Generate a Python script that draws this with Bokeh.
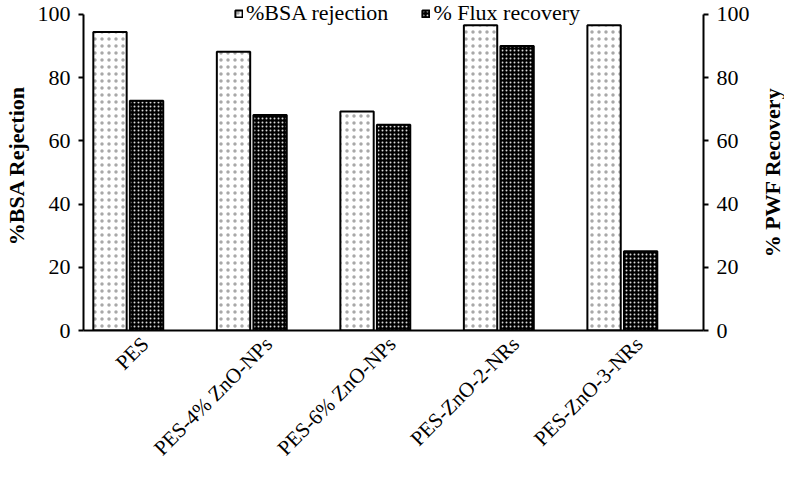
import math
from bokeh.plotting import figure
from bokeh.layouts import row
from bokeh.models import Range1d, LinearAxis, FixedTicker, Legend, LegendItem, ColumnDataSource
from bokeh.core.properties import value
from bokeh.embed import file_html
from bokeh.resources import INLINE

categories = ["PES", "PES-4% ZnO-NPs", "PES-6% ZnO-NPs", "PES-ZnO-2-NRs", "PES-ZnO-3-NRs"]
bsa_rejection = [94.4, 88.2, 69.3, 96.6, 96.6]
flux_recovery = [72.7, 68.2, 65.1, 90.0, 25.1]
y_ticks = [0, 20, 40, 60, 80, 100]
left_title = "%BSA Rejection"
right_title = "% PWF Recovery"

FONT = "Liberation Serif"
idx = list(range(len(categories)))
off = 0.148
bw = 0.27

H = 471
WM, WS = 760, 24
BL, BR, BT, BB = 73, 57, 0, 139
x0, x1 = -0.3625, 4.657
frame_h = H - BT - BB
top_pad_px = 14                      # room above the 100 tick for the legend
y_max = y_ticks[-1]
y_end = y_max * frame_h / (frame_h - top_pad_px)

src = ColumnDataSource(dict(
    x1=[i - off for i in idx], x2=[i + off for i in idx],
    bsa=bsa_rejection, flux=flux_recovery))

p = figure(width=WM, height=H, output_backend="svg", toolbar_location=None,
           x_range=Range1d(x0, x1), y_range=Range1d(0, y_end),
           min_border_left=BL, min_border_right=BR, min_border_top=BT, min_border_bottom=BB)
p.outline_line_color = None
p.grid.visible = False
p.background_fill_color = "white"

r1 = p.vbar(x="x1", top="bsa", width=bw, source=src, fill_color="white",
            line_color="black", line_width=2,
            hatch_pattern=".", hatch_color="#a8a8a8", hatch_scale=7, hatch_weight=0.5)
r2 = p.vbar(x="x2", top="flux", width=bw, source=src, fill_color="black",
            line_color="black", line_width=2,
            hatch_pattern=".", hatch_color="#d8d8d8", hatch_scale=4, hatch_weight=1.2)

ya = p.yaxis[0]
ya.ticker = FixedTicker(ticks=y_ticks)
ya.axis_label = left_title

ra = LinearAxis(ticker=FixedTicker(ticks=y_ticks))
p.add_layout(ra, "right")

for ax in [ya, ra]:
    ax.bounds = (0, y_max)
    ax.axis_line_width = 2
    ax.axis_line_color = "black"
    ax.major_tick_out = 5
    ax.major_tick_in = 0
    ax.major_tick_line_width = 2
    ax.minor_tick_line_color = None
    ax.major_label_text_font = FONT
    ax.major_label_text_font_size = "22px"
    ax.major_label_text_color = "black"
    ax.major_label_standoff = 8
    ax.axis_label_text_font = FONT
    ax.axis_label_text_font_size = "22px"
    ax.axis_label_text_font_style = "bold"
    ax.axis_label_text_color = "black"
    ax.axis_label_standoff = 6

xa = p.xaxis[0]
xa.ticker = FixedTicker(ticks=[i + 0.135 for i in idx])
xa.major_label_overrides = {i + 0.135: c for i, c in zip(idx, categories)}
xa.major_label_orientation = math.pi / 4
xa.major_tick_line_color = None
xa.major_tick_out = 0
xa.major_tick_in = 0
xa.minor_tick_line_color = None
xa.axis_line_width = 2
xa.axis_line_color = "black"
xa.major_label_text_font = FONT
xa.major_label_text_font_size = "21px"
xa.major_label_text_color = "black"
xa.major_label_standoff = 10

legend = Legend(items=[LegendItem(label="%BSA rejection", renderers=[r1]),
                       LegendItem(label="% Flux recovery", renderers=[r2])],
                orientation="horizontal", location=(151, frame_h - 28),
                label_text_font=FONT, label_text_font_size="22px", label_text_color="black",
                glyph_width=9, glyph_height=9, label_standoff=3, spacing=33,
                label_height=24, padding=0, margin=0, border_line_color=None,
                background_fill_alpha=0)
p.add_layout(legend, "center")

# narrow side panel carrying the right-hand axis title, reading bottom to top
s = figure(width=WS, height=H, output_backend="svg", toolbar_location=None,
           x_range=Range1d(0, 1), y_range=Range1d(0, y_end),
           min_border_left=0, min_border_right=0, min_border_top=BT, min_border_bottom=BB)
s.axis.visible = False
s.grid.visible = False
s.outline_line_color = None
s.text(x=[0.5], y=[y_max / 2], text=[right_title], angle=math.pi / 2,
       text_align="center", text_baseline="middle",
       text_font=value(FONT), text_font_size="22px", text_font_style="bold", text_color="black")

open("out.html", "w").write(file_html(row(p, s), INLINE))
